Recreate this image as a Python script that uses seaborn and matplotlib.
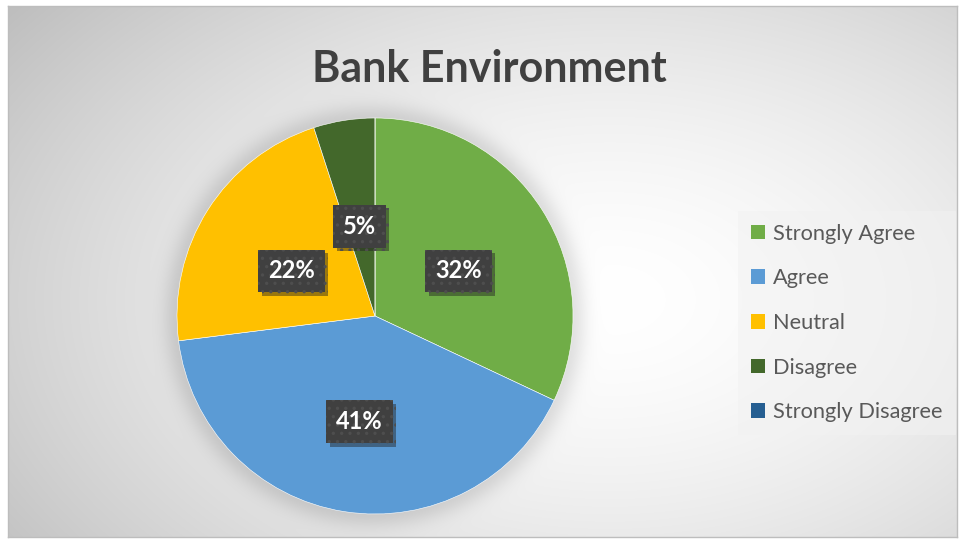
import numpy as np
import matplotlib
matplotlib.use("Agg")
import matplotlib.pyplot as plt
import matplotlib.patheffects as pe
import matplotlib.transforms as mtransforms
from matplotlib.patches import Patch
import seaborn as sns

# Survey responses for the bank environment question
categories = ["Strongly Agree", "Agree", "Neutral", "Disagree", "Strongly Disagree"]
shares = [32, 41, 22, 5, 0]
colors = ["#70AD47", "#5B9BD5", "#FFC000", "#43682B", "#255E91"]
title = "Bank Environment"

sns.set_theme(style="white")
plt.rcParams["font.family"] = ["Lato", "DejaVu Sans"]

W, H = 959, 540
fig = plt.figure(figsize=(W / 100, H / 100), dpi=100)
fig.patch.set_facecolor("white")

# Chart area with a soft radial gradient and a faint halo under the pie
x0, x1, y0, y1 = 8, 957, 6, 537
cx, cy, r = 375, 316, 198
bg_ax = fig.add_axes([x0 / W, 1 - y1 / H, (x1 - x0) / W, (y1 - y0) / H])
xs = np.arange(x0, x1) + 0.5
ys = np.arange(y0, y1) + 0.5
X, Y = np.meshgrid(xs, ys)
t = np.sqrt(((X - 610) / 600) ** 2 + ((Y - 300) / 380) ** 2)
shade = 255 - 45 * t ** 1.6
d = np.hypot(X - cx, Y - cy)
shade -= 28 * np.exp(-((d - r + 2) / 16) ** 2) * (d > r - 10)
shade = np.clip(shade, 0, 255) / 255
img = np.dstack([shade, shade, shade])
bg_ax.imshow(img, extent=(x0, x1, y1, y0), aspect="auto", interpolation="bilinear")
bg_ax.set_xlim(x0, x1)
bg_ax.set_ylim(y1, y0)
bg_ax.set_xticks([])
bg_ax.set_yticks([])
for s in bg_ax.spines.values():
    s.set_color("#bdbdbd")
    s.set_linewidth(1.0)

# Pie
ax = fig.add_axes([(cx - r) / W, 1 - (cy + r) / H, 2 * r / W, 2 * r / H])
ax.set_facecolor("none")
wedges, texts, autotexts = ax.pie(
    shares,
    colors=colors,
    startangle=90,
    counterclock=False,
    radius=1,
    autopct=lambda p: f"{p:.0f}%" if p > 0.5 else "",
    pctdistance=0.5,
    wedgeprops=dict(edgecolor="#ffffff", linewidth=0.4),
    textprops=dict(color="white", fontsize=17, fontweight="bold"),
)
ax.set_xlim(-1, 1)
ax.set_ylim(-1, 1)
ax.set_aspect("auto")
ax.axis("off")

# Dark, dotted data-label boxes with a drop shadow, nudged slightly down
plt.rcParams["hatch.color"] = "#4c4c4c"
plt.rcParams["hatch.linewidth"] = 1.2
nudge = mtransforms.ScaledTranslation(0, -0.08, fig.dpi_scale_trans)
for at in autotexts:
    at.set_transform(ax.transData + nudge)
    at.set_bbox(dict(boxstyle="square,pad=0.42", facecolor="#404040",
                     edgecolor="#4e4e4e", linewidth=0.0, hatch=".."))
    bp = at.get_bbox_patch()
    bp.set_path_effects([pe.SimplePatchShadow(offset=(2.5, -2.5), alpha=0.45,
                                              shadow_rgbFace="#202020"),
                         pe.Normal()])

# Title
fig.text(489 / W, 1 - 82 / H, title, ha="center", va="baseline",
         fontsize=31, fontweight="bold", color="#404040")

# Legend
handles = [Patch(facecolor=c, edgecolor="none") for c in colors]
leg = fig.legend(handles, categories, loc="center left",
                 bbox_to_anchor=(738 / W, 1 - 323 / H),
                 fontsize=15.7, frameon=True, fancybox=False,
                 handlelength=0.64, handleheight=0.64, handletextpad=0.38,
                 labelspacing=1.13, borderpad=0.6, borderaxespad=0)
leg.get_frame().set_facecolor("#f2f2f2")
leg.get_frame().set_alpha(0.55)
leg.get_frame().set_edgecolor("none")
for txt in leg.get_texts():
    txt.set_color("#595959")

fig.savefig("out.png", dpi=100)
